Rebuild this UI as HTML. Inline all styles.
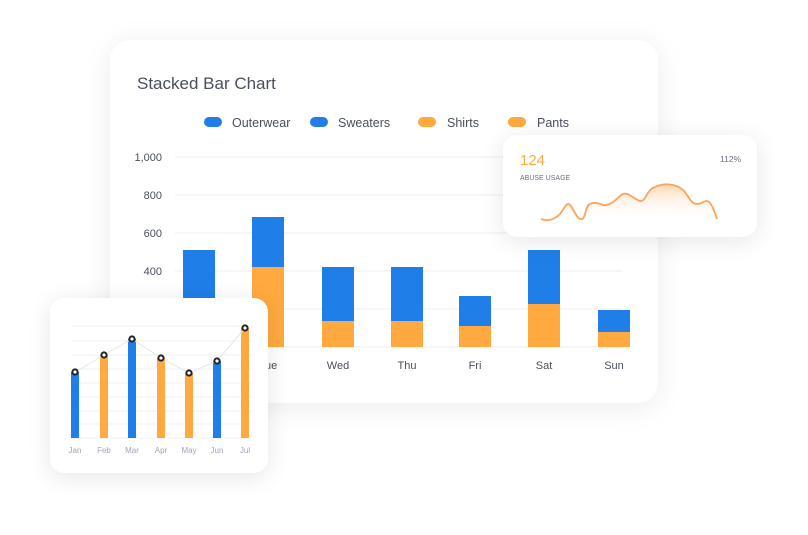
<!DOCTYPE html>
<html><head><style>
body{margin:0;width:808px;height:535px;background:#fff;font-family:"Liberation Sans",sans-serif;position:relative;overflow:hidden}
.card{position:absolute;background:#fff;border-radius:20px;box-shadow:0 4px 30px rgba(0,0,0,0.08)}
</style></head><body>
<div class="card" style="left:110px;top:40px;width:548px;height:363px;"></div>
<svg width="808" height="535" style="position:absolute;left:0;top:0" font-family="Liberation Sans, sans-serif">
<text x="137" y="89" font-size="17" fill="#4a4f5c">Stacked Bar Chart</text>
<g font-size="12.5" fill="#4a4f5c">
<rect x="204" y="117" width="18" height="10" rx="5" fill="#1f7ee8"/><text x="232" y="127">Outerwear</text>
<rect x="310" y="117" width="18" height="10" rx="5" fill="#1f7ee8"/><text x="338" y="127">Sweaters</text>
<rect x="418" y="117" width="18" height="10" rx="5" fill="#ffa940"/><text x="447" y="127">Shirts</text>
<rect x="508" y="117" width="18" height="10" rx="5" fill="#ffa940"/><text x="537" y="127">Pants</text>
</g>
<g stroke="#eceef2" stroke-width="1">
<line x1="175" x2="622" y1="157" y2="157"/><line x1="175" x2="622" y1="195" y2="195"/><line x1="175" x2="622" y1="233" y2="233"/><line x1="175" x2="622" y1="271" y2="271"/><line x1="175" x2="622" y1="309" y2="309"/><line x1="175" x2="622" y1="347" y2="347"/>
</g>
<g font-size="11" fill="#4a4f5c" text-anchor="end">
<text x="162" y="161">1,000</text><text x="162" y="199">800</text><text x="162" y="237">600</text><text x="162" y="275">400</text>
</g>
<g fill="#1f7ee8">
<rect x="183" y="250" width="32" height="97"/><rect x="252" y="217" width="32" height="50"/><rect x="322" y="267" width="32" height="54"/><rect x="391" y="267" width="32" height="54"/><rect x="459" y="296" width="32" height="30"/><rect x="528" y="250" width="32" height="54"/><rect x="598" y="310" width="32" height="22"/>
</g>
<g fill="#ffa940">
<rect x="252" y="267" width="32" height="80"/><rect x="322" y="321" width="32" height="26"/><rect x="391" y="321" width="32" height="26"/><rect x="459" y="326" width="32" height="21"/><rect x="528" y="304" width="32" height="43"/><rect x="598" y="332" width="32" height="15"/>
</g>
<g font-size="11" fill="#4a4f5c" text-anchor="middle">
<text x="268" y="369">Tue</text><text x="338" y="369">Wed</text><text x="407" y="369">Thu</text><text x="475" y="369">Fri</text><text x="544" y="369">Sat</text><text x="614" y="369">Sun</text>
</g>
</svg>
<div class="card" style="left:503px;top:135px;width:254px;height:102px;border-radius:14px;box-shadow:0 4px 24px rgba(0,0,0,0.1)"></div>
<div class="card" style="left:50px;top:298px;width:218px;height:175px;border-radius:14px;box-shadow:0 4px 24px rgba(0,0,0,0.1)"></div>
<svg width="808" height="535" style="position:absolute;left:0;top:0" font-family="Liberation Sans, sans-serif">
<defs><linearGradient id="g" x1="0" y1="0" x2="0" y2="1"><stop offset="0" stop-color="#ffb877" stop-opacity="0.55"/><stop offset="1" stop-color="#fff" stop-opacity="0"/></linearGradient></defs>
<text x="520" y="165" font-size="15" fill="#ffa940">124</text>
<text x="520" y="180" font-size="7" fill="#6b7080">ABUSE USAGE</text>
<text x="720" y="162" font-size="8.5" fill="#6b7080">112%</text>
<path d="M541,219 C546,221 553,221 560,214 C564,209 566,203 569,204 C573,206 576,220 582,219 C586,218 585,206 590,204 C594,202 598,203 603,205 C610,206 616,200 621,195 C627,190 635,200 640,201 C646,202 646,190 655,187 C663,183 675,183 683,190 C688,194 690,204 697,204 C703,204 706,198 710,203 C714,208 715,214 717,219 Z" fill="url(#g)"/>
<path d="M541,219 C546,221 553,221 560,214 C564,209 566,203 569,204 C573,206 576,220 582,219 C586,218 585,206 590,204 C594,202 598,203 603,205 C610,206 616,200 621,195 C627,190 635,200 640,201 C646,202 646,190 655,187 C663,183 675,183 683,190 C688,194 690,204 697,204 C703,204 706,198 710,203 C714,208 715,214 717,219" fill="none" stroke="#ffa25a" stroke-width="1.8"/>
<g stroke="#f0f1f5" stroke-width="1">
<line x1="71" x2="252" y1="326" y2="326"/><line x1="71" x2="252" y1="341" y2="341"/><line x1="71" x2="252" y1="355" y2="355"/><line x1="71" x2="252" y1="369" y2="369"/><line x1="71" x2="252" y1="383" y2="383"/><line x1="71" x2="252" y1="397" y2="397"/><line x1="71" x2="252" y1="411" y2="411"/><line x1="71" x2="252" y1="424" y2="424"/><line x1="71" x2="252" y1="438" y2="438"/>
</g>
<rect x="71" y="372" width="8" height="66" fill="#1f7ee8"/>
<rect x="100" y="355" width="8" height="83" fill="#ffa940"/>
<rect x="128" y="339" width="8" height="99" fill="#1f7ee8"/>
<rect x="157" y="358" width="8" height="80" fill="#ffa940"/>
<rect x="185" y="373" width="8" height="65" fill="#ffa940"/>
<rect x="213" y="361" width="8" height="77" fill="#1f7ee8"/>
<rect x="241" y="328" width="8" height="110" fill="#ffa940"/>
<polyline points="75,372 104,355 132,339 161,358 189,373 217,361 245,328" fill="none" stroke="#e6e6e6" stroke-width="1"/>
<g fill="#fff" stroke="#222" stroke-width="2">
<circle cx="75" cy="372" r="2.6"/><circle cx="104" cy="355" r="2.6"/><circle cx="132" cy="339" r="2.6"/><circle cx="161" cy="358" r="2.6"/><circle cx="189" cy="373" r="2.6"/><circle cx="217" cy="361" r="2.6"/><circle cx="245" cy="328" r="2.6"/>
</g>
<g font-size="8" fill="#a0a6b8" text-anchor="middle">
<text x="75" y="453">Jan</text><text x="104" y="453">Feb</text><text x="132" y="453">Mar</text><text x="161" y="453">Apr</text><text x="189" y="453">May</text><text x="217" y="453">Jun</text><text x="245" y="453">Jul</text>
</g>
</svg>
</body></html>
